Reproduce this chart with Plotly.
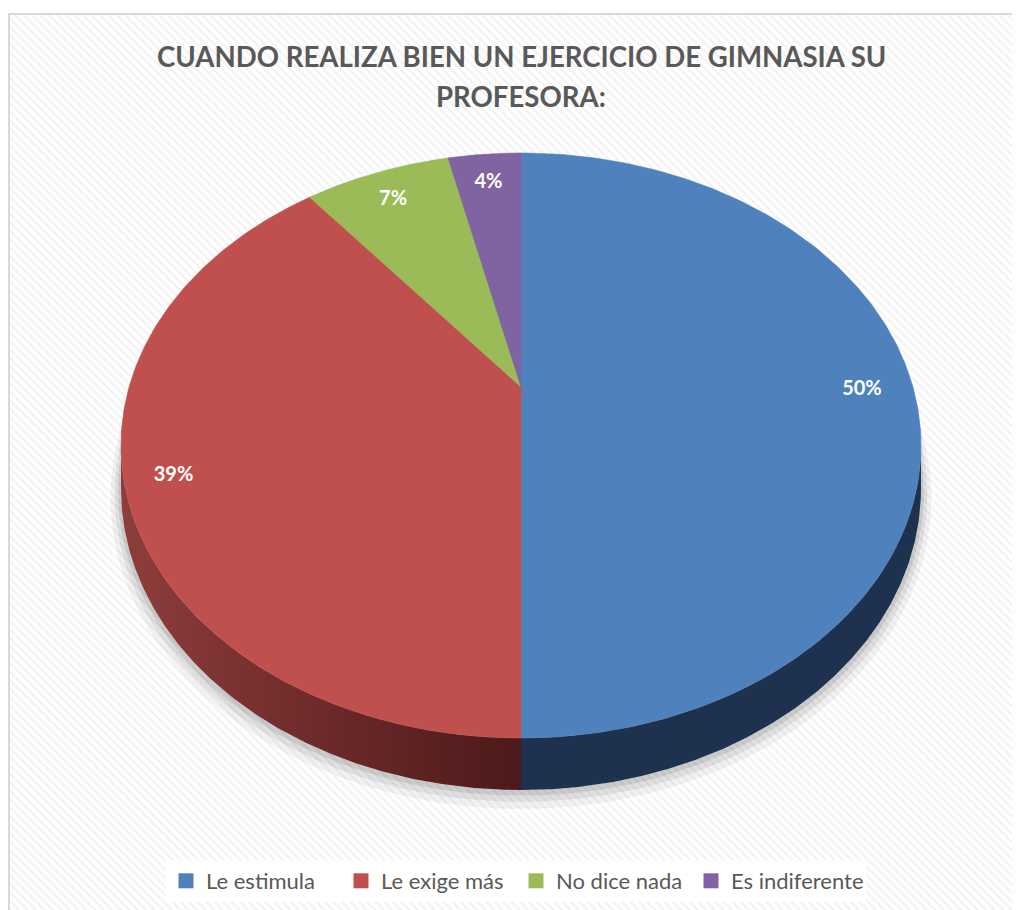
import numpy as np
import plotly.graph_objects as go

# ---- data ----
categories = ["Le estimula", "Le exige más", "No dice nada", "Es indiferente"]
counts = [14, 11, 2, 1]
top_colors = ["#4F81BD", "#C0504D", "#9BBB59", "#8064A2"]
title_lines = ["CUANDO REALIZA BIEN UN EJERCICIO DE GIMNASIA SU", "PROFESORA:"]

# ---- geometry of the perspective pie (screen pixel space) ----
OFF = 8                      # page body margin
W, H = 1020, 910
FW, FH = W - OFF, H - OFF
CX, CY = 521.0, 387.0
A, B, K = 391.9, 280.8, 0.2
DEPTH = 41.6
FONT = "Lato"


def proj(phi_deg, depth=0.0, r=1.0):
    phi = np.radians(phi_deg)
    u = r * np.sin(phi)
    v = -r * np.cos(phi)
    s = 1.0 / (1.0 - K * v)
    return CX + A * u * s, CY + B * v * s + depth * s


total = float(sum(counts))
cum = np.concatenate([[0.0], np.cumsum(counts) / total * 360.0])

fig = go.Figure()

# background hatch
fig.add_trace(go.Scatter(
    x=[10, W + 5, W + 5, 10, 10], y=[14, 14, H + 5, H + 5, 14],
    mode="lines", fill="toself", line=dict(width=0, color="rgba(0,0,0,0)"),
    fillcolor="white",
    fillpattern=dict(shape="\\", fgcolor="#E6E6E6", bgcolor="white", size=6, solidity=0.35),
    hoverinfo="skip", showlegend=False))

# soft shadow
phis = np.linspace(0, 360, 361)
for rr, dd, op in [(1.025, 6, 0.05), (1.015, 4, 0.07), (1.007, 2, 0.09)]:
    xs, ys = proj(phis, DEPTH + dd, rr)
    fig.add_trace(go.Scatter(x=xs, y=ys, mode="lines", fill="toself",
                             line=dict(width=0), fillcolor=f"rgba(0,0,0,{op})",
                             hoverinfo="skip", showlegend=False))

# visible side walls
phi_l = np.degrees(np.arccos(-K))
phi_r = 360.0 - phi_l
side_styles = [
    dict(fillcolor="#1E3250"),
    dict(fillgradient=dict(type="horizontal",
                           colorscale=[[0, "#8E3D3C"], [0.55, "#6A2828"], [1, "#4C1A1A"]])),
    dict(fillcolor="#5E7333"),
    dict(fillcolor="#4A3A60"),
]
for i in range(len(counts)):
    a, b = max(cum[i], phi_l), min(cum[i + 1], phi_r)
    if b <= a:
        continue
    ph = np.linspace(a, b, 200)
    xt, yt = proj(ph, 0)
    xb, yb = proj(ph[::-1], DEPTH)
    xs = np.concatenate([xt, xb, xt[:1]])
    ys = np.concatenate([yt, yb, yt[:1]])
    fig.add_trace(go.Scatter(x=xs, y=ys, mode="lines", fill="toself",
                             line=dict(width=0), hoverinfo="skip", showlegend=False,
                             **side_styles[i]))

# top faces
for i in range(len(counts)):
    ph = np.linspace(cum[i], cum[i + 1], 200)
    xa, ya = proj(ph, 0)
    xs = np.concatenate([[CX], xa, [CX]])
    ys = np.concatenate([[CY], ya, [CY]])
    fig.add_trace(go.Scatter(x=xs, y=ys, mode="lines", fill="toself",
                             line=dict(width=0.6, color=top_colors[i]),
                             fillcolor=top_colors[i], hoverinfo="skip", showlegend=False))

# data labels
mids = (cum[:-1] + cum[1:]) / 2.0
lx, ly = proj(mids, 0, 0.87)
lx = lx - np.array([0, 6, 0, 0])
labels = [f"{round(100 * c / total)}%" for c in counts]
fig.add_trace(go.Scatter(x=lx, y=ly + 3, mode="text", text=labels,
                         textfont=dict(family=FONT, size=20, color="white", weight="bold"),
                         hoverinfo="skip", showlegend=False))

# legend entries
for name, col in zip(categories, top_colors):
    fig.add_trace(go.Scatter(x=[None], y=[None], mode="markers", name=name,
                             marker=dict(symbol="square", size=15, color=col)))

# title
for j, line in enumerate(title_lines):
    fig.add_annotation(x=CX, y=56 + 40 * j, xref="x", yref="y", text=line, showarrow=False,
                       font=dict(family=FONT, size=27.6, color="#595959", weight="bold"),
                       xanchor="center", yanchor="middle")

# chart frame
fig.add_shape(type="rect", x0=9, y0=14, x1=W + 10, y1=H + 10, xref="x", yref="y",
              line=dict(color="#D9D9D9", width=2), fillcolor="rgba(0,0,0,0)", layer="above")

fig.update_layout(
    width=FW, height=FH, margin=dict(l=0, r=0, t=0, b=0),
    paper_bgcolor="white", plot_bgcolor="white",
    xaxis=dict(range=[OFF, W], visible=False, fixedrange=True),
    yaxis=dict(range=[H, OFF], visible=False, fixedrange=True),
    showlegend=True,
    legend=dict(orientation="h", x=(516 - OFF) / FW, xanchor="center",
                y=1 - (881 - OFF) / FH, yanchor="middle",
                entrywidth=130, entrywidthmode="pixels",
                bgcolor="white", font=dict(family=FONT, size=22, color="#595959"),
                itemsizing="trace", traceorder="normal"),
)

fig.write_html("out.html")
